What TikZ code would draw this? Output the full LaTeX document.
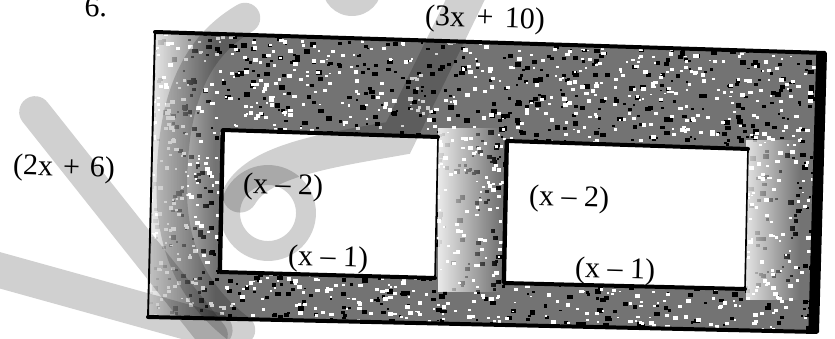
\documentclass[tikz,border=0pt]{standalone}
\usepackage{fontspec}
\setmainfont{Liberation Serif}
\usetikzlibrary{fadings,calc}
\tikzfading[name=fadeR, left color=transparent!0, right color=transparent!100]
\definecolor{wm}{RGB}{208,208,208}
\tikzset{
  lbl/.style={font=\fontsize{25.6}{30}\selectfont, inner sep=0pt, rotate=-1.7},
  heavy/.style={line width=3.4pt, line cap=round, line join=round},
  lite/.style={line width=1.4pt, line cap=round},
  wmstroke/.style={draw=wm, line cap=round}
}
\begin{document}
\begin{tikzpicture}[x=0.03cm,y=-0.03cm]
\useasboundingbox (0,0) rectangle (835,339);
% corners
\coordinate (O1) at (155,32);  \coordinate (O2) at (825,53);
\coordinate (O3) at (817,332); \coordinate (O4) at (148,317);
\coordinate (L1) at (223,130); \coordinate (L2) at (438,137);
\coordinate (L3) at (435,278); \coordinate (L4) at (220,272);
\coordinate (R1) at (507,141); \coordinate (R2) at (748,149);
\coordinate (R3) at (745,289); \coordinate (R4) at (504,283);
% textured frame
\begin{scope}[even odd rule]
\clip (O1)--(O2)--(O3)--(O4)--cycle
  (L1)--(L2)--(L3)--(L4)--cycle (R1)--(R2)--(R3)--(R4)--cycle;
\fill[black!55] (140,25) rectangle (830,340);
\pgfmathsetseed{42}
\foreach \i in {1,...,1300}{
  \pgfmathsetmacro{\rx}{145+685*rnd}
  \pgfmathsetmacro{\ry}{28+310*rnd}
  \pgfmathsetmacro{\s}{2+4*rnd}
  \fill[black] (\rx,\ry) rectangle ++(\s,\s*0.8);
}
\foreach \i in {1,...,1600}{
  \pgfmathsetmacro{\rx}{145+685*rnd}
  \pgfmathsetmacro{\ry}{28+310*rnd}
  \pgfmathsetmacro{\s}{2+3*rnd}
  \fill[white] (\rx,\ry) rectangle ++(\s,\s*0.8);
}
\fill[white, path fading=fadeR, fill opacity=0.92] (146,28) rectangle (215,338);
\fill[white, path fading=fadeR, fill opacity=0.85] (438,128) rectangle (500,292);
\fill[white, path fading=fadeR, fill opacity=0.8] (746,140) rectangle (800,300);
\draw[black, line width=8pt] ($(O2)+(-4,0)$) -- ($(O3)+(-4,0)$);
\draw[black, line width=4pt] (L1) -- (L4);
\draw[black, line width=4pt] (R1) -- (R4);
\end{scope}
% edges
\draw[heavy] (O1) -- (O2) -- (O3) -- (O4);
\draw[line width=1.6pt] (O4) -- (O1);
\draw[heavy] (L2) -- (L1) -- (L4) -- (L3);
\draw[lite] (L2) -- (L3);
\draw[heavy] (R2) -- (R1) -- (R4) -- (R3);
\draw[lite] (R2) -- (R3);
% labels
\node[lbl] (n6) at (96,7) {6.};
\node[lbl] (top) at (485,20) {(3x\hspace{0.38em}+\hspace{0.38em}10)};
\node[lbl] (side) at (64,169) {(2x\hspace{0.33em}+\hspace{0.33em}6)};
\node[lbl] (a2) at (283,187) {(x – 2)};
\node[lbl] (a1) at (328,259) {(x – 1)};
\node[lbl] (b2) at (569,199) {(x – 2)};
\node[lbl] (b1) at (615,271) {(x – 1)};
% watermark
\begin{scope}[blend mode=multiply]
\draw[wmstroke, line width=27pt] (35,112) -- (212,335);
\draw[wmstroke, line width=30pt] (-30,262) -- (215,330);
\draw[wmstroke, line width=17pt] (268,213) circle[radius=38];
\draw[wmstroke, line width=30pt] (470,-10) -- (398,138) .. controls (330,150) and (260,160) .. (240,195);
\draw[wmstroke, line width=26pt] (245,18) .. controls (190,50) and (170,110) .. (172,200) .. controls (175,260) and (200,300) .. (240,330);
\fill[wm] (352,-14) circle[radius=30];
\end{scope}
\end{tikzpicture}
\end{document}
